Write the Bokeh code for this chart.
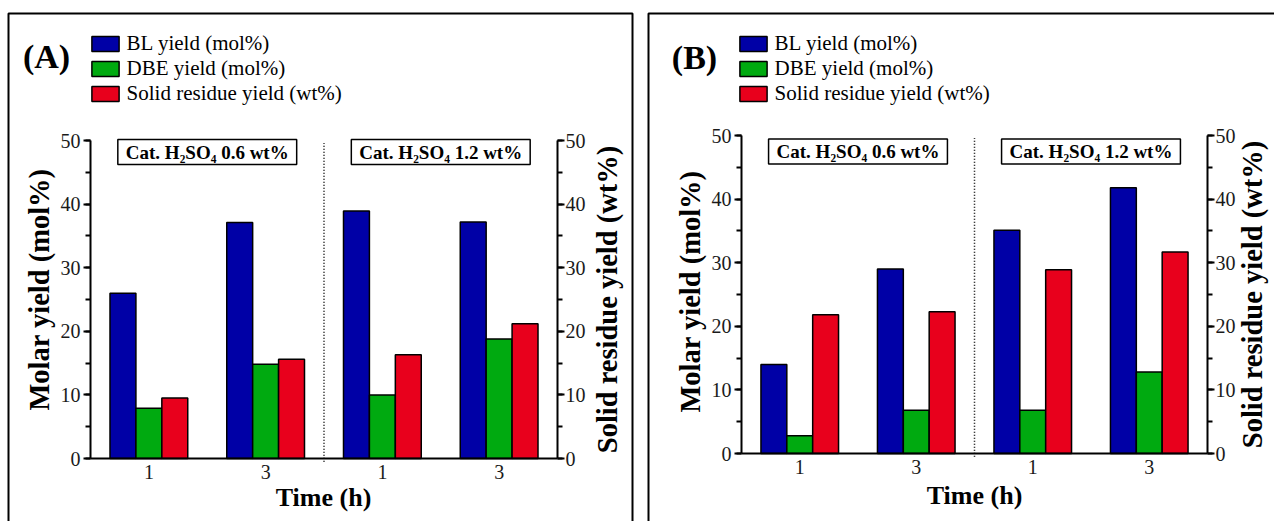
from bokeh.plotting import figure
from bokeh.models import (ColumnDataSource, Range1d, LinearAxis, SingleIntervalTicker, FixedTicker,
                          Label, Legend, LegendItem, BoxAnnotation)
from bokeh.layouts import row
from bokeh.transform import dodge
from bokeh.embed import file_html
from bokeh.resources import INLINE

# ---------------- data ----------------
times = ["1", "3", "1", "3"]
positions = [0, 1, 2, 3]
catalyst_labels = ["Cat. H\u2082SO\u2084 0.6 wt%", "Cat. H\u2082SO\u2084 1.2 wt%"]
series_names = ["BL yield (mol%)", "DBE yield (mol%)", "Solid residue yield (wt%)"]
axis_titles = ["Time (h)", "Molar yield (mol%)", "Solid residue yield (wt%)"]
colors = ["#0000A6", "#00AA10", "#E8001C"]

a_bl = [26.0, 37.1, 38.9, 37.2]
a_dbe = [7.9, 14.8, 10.0, 18.8]
a_sr = [9.5, 15.6, 16.3, 21.2]

b_bl = [14.0, 29.0, 35.1, 41.8]
b_dbe = [2.8, 6.8, 6.8, 12.8]
b_sr = [21.8, 22.3, 28.9, 31.7]

y_ticks_max = 50

FONT = "Liberation Serif"
H = 521
XMIN, XMAX = positions[0] - 0.5, positions[-1] + 0.5
YMIN, YMAX = 0, y_ticks_max


def make_panel(tag, bl, dbe, sr, W, geo):
    axl, axr, axt, axb = geo["axes"]
    ppx = (axr - axl) / (XMAX - XMIN)
    ppy = (axb - axt) / (YMAX - YMIN)
    xr = Range1d(XMIN - axl / ppx, XMAX + (W - axr) / ppx)
    y0, y1 = YMIN - (H - axb) / ppy, YMAX + axt / ppy

    p = figure(width=W, height=H, x_range=xr, y_range=Range1d(y0, y1),
               output_backend="svg", toolbar_location=None,
               min_border=0, min_border_left=0, min_border_right=0,
               min_border_top=0, min_border_bottom=0)
    p.title.visible = False
    p.extra_y_ranges = {"wt": Range1d(y0, y1)}
    p.outline_line_color = None
    p.xgrid.visible = False
    p.ygrid.visible = False
    p.background_fill_color = "white"
    p.border_fill_color = "white"

    src = ColumnDataSource(dict(pos=positions, bl=bl, dbe=dbe, sr=sr))
    bw = 0.222
    r1 = p.vbar(x=dodge("pos", -bw), top="bl", width=bw, source=src,
                fill_color=colors[0], line_color="black", line_width=1.5)
    r2 = p.vbar(x="pos", top="dbe", width=bw, source=src,
                fill_color=colors[1], line_color="black", line_width=1.5)
    r3 = p.vbar(x=dodge("pos", bw), top="sr", width=bw, source=src, y_range_name="wt",
                fill_color=colors[2], line_color="black", line_width=1.5)

    # axes (fixed at the data edges, so the whole canvas is the plot frame)
    xa = p.xaxis[0]
    xa.ticker = FixedTicker(ticks=positions)
    xa.major_label_overrides = {pp: t for pp, t in zip(positions, times)}
    xa.major_tick_out = 0
    xa.major_tick_in = 0
    xa.minor_tick_out = 0
    xa.major_label_standoff = 6
    xa.fixed_location = YMIN
    xa.bounds = (XMIN, XMAX)

    ya = p.yaxis[0]
    ya.ticker = SingleIntervalTicker(interval=10, num_minor_ticks=2)
    ya.major_label_standoff = 3
    ya.fixed_location = XMIN
    ya.bounds = (YMIN, YMAX)

    ra = LinearAxis(y_range_name="wt", ticker=SingleIntervalTicker(interval=10, num_minor_ticks=2))
    ra.major_label_standoff = 1
    ra.fixed_location = XMAX
    ra.bounds = (YMIN, YMAX)
    p.add_layout(ra, "right")

    for ax in (xa, ya, ra):
        ax.axis_line_width = 2
        ax.axis_line_color = "black"
        ax.major_tick_line_width = 2
        ax.minor_tick_line_width = 2
        ax.major_tick_line_color = "black"
        ax.minor_tick_line_color = "black"
        ax.major_label_text_font = FONT
        ax.major_label_text_font_size = "20px"
        ax.major_label_text_color = "#1a1a1a"
    for ax in (ya, ra):
        ax.major_tick_out = 7
        ax.major_tick_in = 0
        ax.minor_tick_out = 5
        ax.minor_tick_in = 0

    # axis titles
    tx, ty = geo["xtitle"]
    p.add_layout(Label(x=tx, y=H - ty, x_units="screen", y_units="screen", text=axis_titles[0],
                       text_font=FONT, text_font_size="26px", text_font_style="bold",
                       text_color="black", text_align="center", text_baseline="middle"))
    lx, ly = geo["ltitle"]
    p.add_layout(Label(x=lx, y=H - ly, x_units="screen", y_units="screen", text=axis_titles[1],
                       angle=90, angle_units="deg", text_color="black",
                       text_font=FONT, text_font_size="28.5px", text_font_style="bold",
                       text_align="center", text_baseline="middle"))
    rx, ry = geo["rtitle"]
    p.add_layout(Label(x=rx, y=H - ry, x_units="screen", y_units="screen", text=axis_titles[2],
                       angle=90, angle_units="deg", text_color="black",
                       text_font=FONT, text_font_size="28.5px", text_font_style="bold",
                       text_align="center", text_baseline="middle"))

    # dotted separator between the two catalyst groups
    sep = (positions[1] + positions[2]) / 2
    p.segment(x0=[sep], y0=[YMIN - 0.5], x1=[sep], y1=[YMAX - 0.4],
              line_color="black", line_width=1.5, line_dash="1 2")

    # catalyst boxes
    for k, txt in enumerate(catalyst_labels):
        cx = (positions[2 * k] + positions[2 * k + 1]) / 2
        p.add_layout(Label(x=cx, y=H - geo["box_y"], y_units="screen", text=txt,
                           text_font=FONT, text_font_size="19px", text_color="black",
                           text_font_style="bold", text_align="center", text_baseline="middle",
                           border_line_color="black", border_line_width=1.5, border_line_alpha=1.0,
                           background_fill_color="white", background_fill_alpha=1.0,
                           padding=dict(left=8, right=8, top=2, bottom=2)))

    # panel tag
    gx, gy = geo["tag"]
    p.add_layout(Label(x=gx, y=H - gy, x_units="screen", y_units="screen", text=tag,
                       text_font=FONT, text_font_size="34px", text_font_style="bold",
                       text_color="black", text_align="center", text_baseline="middle"))

    # legend
    leg = Legend(items=[LegendItem(label=series_names[0], renderers=[r1]),
                        LegendItem(label=series_names[1], renderers=[r2]),
                        LegendItem(label=series_names[2], renderers=[r3])],
                 location=geo["legend"], padding=0, margin=0, spacing=0,
                 glyph_width=34, glyph_height=19, label_height=19, label_standoff=5,
                 label_text_font=FONT, label_text_font_size="21px", label_text_color="black",
                 border_line_color=None, background_fill_alpha=0)
    p.add_layout(leg, "center")

    # outer panel frame
    bl_, br_, bt_, bb_ = geo["border"]
    p.add_layout(BoxAnnotation(left=bl_, right=br_, top=H - bt_, bottom=H - bb_,
                               left_units="screen", right_units="screen", top_units="screen",
                               bottom_units="screen", fill_alpha=0, line_color="black",
                               line_alpha=1.0, line_width=2))
    return p


geoA = dict(axes=(90, 557, 140, 458), xtitle=(323, 497), ltitle=(39, 289), rtitle=(607, 299),
            box_y=151.5, tag=(46, 56), legend=(87.6, 415), border=(8, 632, 13, 540))
geoB = dict(axes=(101, 567, 135, 453), xtitle=(334, 495), ltitle=(50, 291), rtitle=(612, 294),
            box_y=151.0, tag=(54, 57), legend=(95.6, 415), border=(8, 700, 13, 540))

pA = make_panel("(A)", a_bl, a_dbe, a_sr, 640, geoA)
pB = make_panel("(B)", b_bl, b_dbe, b_sr, 634, geoB)

layout = row(pA, pB)
open("out.html", "w").write(file_html(layout, INLINE))
